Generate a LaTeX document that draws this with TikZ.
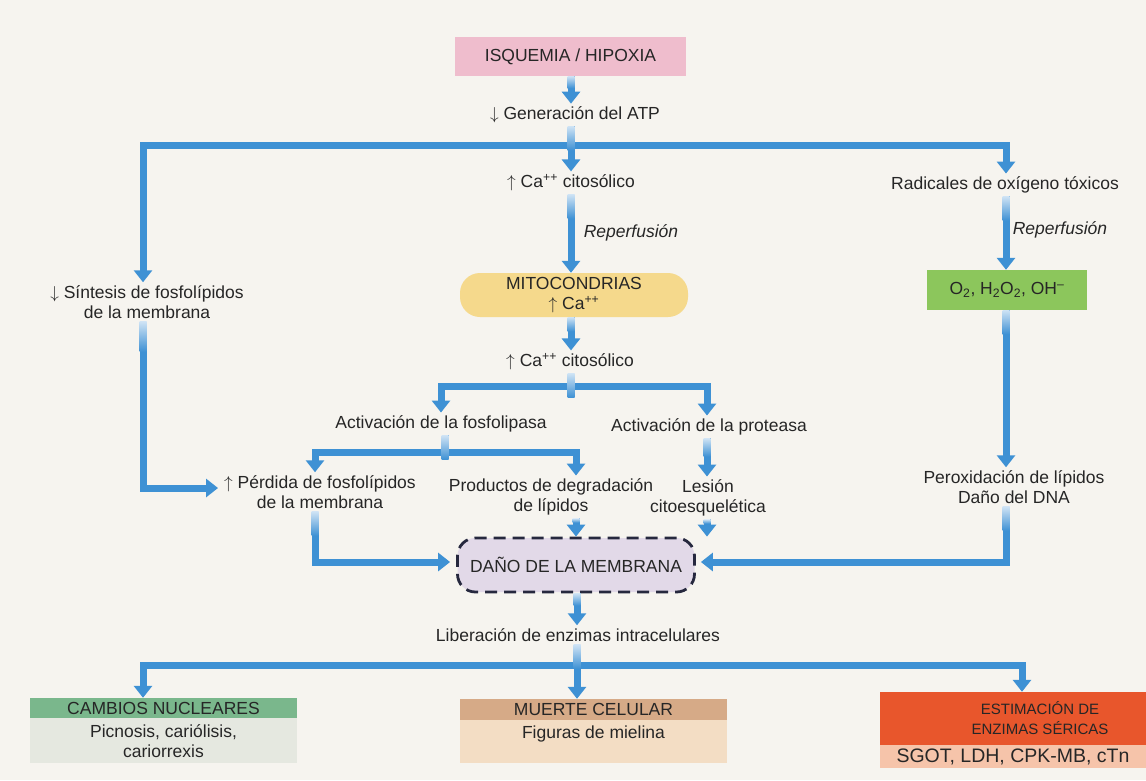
\documentclass[tikz,border=0pt]{standalone}
\usepackage{fontspec}
\setmainfont{Liberation Sans}
\usetikzlibrary{arrows.meta,calc}
\definecolor{paper}{RGB}{246,244,239}
\definecolor{flow}{RGB}{62,145,212}
\definecolor{flowL}{RGB}{205,226,244}
\definecolor{pinkc}{RGB}{239,189,205}
\definecolor{yellowc}{RGB}{245,217,140}
\definecolor{greenc}{RGB}{140,198,92}
\definecolor{danoc}{RGB}{226,217,232}
\definecolor{danoline}{RGB}{38,40,62}
\definecolor{camH}{RGB}{122,183,140}
\definecolor{camB}{RGB}{229,232,224}
\definecolor{mueH}{RGB}{214,170,135}
\definecolor{mueB}{RGB}{243,221,196}
\definecolor{estH}{RGB}{232,86,44}
\definecolor{estB}{RGB}{246,196,170}
\newcommand{\fs}{\fontsize{17.5}{20}\selectfont}
\newcommand{\up}{\ensuremath{\uparrow}}
\newcommand{\dn}{\ensuremath{\downarrow}}
\newcommand{\fadeat}[2][24]{\shade[top color=flowL,bottom color=flow] ($(#2)+(-3.5,0)$) rectangle ($(#2)+(3.5,#1)$);}
\begin{document}
\begin{tikzpicture}[x=1pt,y=-1pt,
  conn/.style={draw=flow,line width=7pt,-{Triangle[width=18pt,length=12pt]}},
  stem/.style={draw=flow,line width=7pt},
  txt/.style={align=center,inner sep=3pt,font=\fs,text=black!85},
  itl/.style={txt,font=\fs\itshape},
  boxc/.style={align=center,inner sep=0pt,font=\fs,text=black!85},
  dano/.style={boxc,draw=danoline,fill=danoc,line width=2.8pt,dash pattern=on 12pt off 7pt,rounded corners=18pt,minimum width=237pt,minimum height=54pt}]
\useasboundingbox (0,0) rectangle (1146,780);
\fill[paper] (0,0) rectangle (1146,780);

% columns
\coordinate (cL) at (143,0);
\coordinate (cR) at (1006,0);
\coordinate (cP) at (315,0);
\coordinate (cQ) at (576,0);
\coordinate (cS) at (707,0);
\coordinate (cM) at (571,0);
\coordinate (cE) at (1022,0);

% nodes
\node[boxc,fill=pinkc,minimum width=231pt,minimum height=39pt] (isq) at (570.5,56.5) {ISQUEMIA / HIPOXIA};
\node[txt] (gen) at (575,115) {\dn\ Generación del ATP};
\coordinate (J1) at (571,145);
\node[txt] (ca1) at (571,183) {\up\ Ca\textsuperscript{++} citosólico};
\node[itl] (rep1) at (631,233) {Reperfusión};
\node[boxc,fill=yellowc,rounded corners=20pt,minimum width=228pt,minimum height=44pt] (mito) at (574,295) {MITOCONDRIAS\\\up\ Ca\textsuperscript{++}};
\node[txt] (ca2) at (570,362) {\up\ Ca\textsuperscript{++} citosólico};
\coordinate (J2) at (571,386);
\node[txt] (fos) at (441,424) {Activación de la fosfolipasa};
\node[txt] (prot) at (709,427) {Activación de la proteasa};
\coordinate (J3) at (445,452);
\node[txt] (perd) at (320,492) {\up\ Pérdida de fosfolípidos\\de la membrana};
\node[txt] (prod) at (551,497) {Productos de degradación\\de lípidos};
\node[txt] (les) at (708,498) {Lesión\\citoesquelética};
\node[txt] (sint) at (147,302) {\dn\ Síntesis de fosfolípidos\\de la membrana};
\node[txt] (rad) at (1005,185) {Radicales de oxígeno tóxicos};
\node[itl] (rep2) at (1060,230) {Reperfusión};
\node[boxc,fill=greenc,minimum width=160pt,minimum height=40pt] (oxy) at (1007,290) {O\textsubscript{2}, H\textsubscript{2}O\textsubscript{2}, OH\textsuperscript{–}};
\node[txt] (pero) at (1014,487) {Peroxidación de lípidos\\Daño del DNA};
\node[dano] (dn) at (576,565) {DAÑO DE LA MEMBRANA};
\node[txt] (lib) at (578,635) {Liberación de enzimas intracelulares};
\coordinate (J4) at (577,665);

\node[boxc,fill=camH,minimum width=267pt,minimum height=20pt] (camh) at (163.5,708) {CAMBIOS NUCLEARES};
\node[boxc,fill=camB,minimum width=267pt,minimum height=45pt,anchor=north] (camb) at (camh.south) {Picnosis, cariólisis,\\cariorrexis};
\node[boxc,fill=mueH,minimum width=267pt,minimum height=21pt] (mueh) at (593.5,709.5) {MUERTE CELULAR};
\node[boxc,fill=mueB,minimum width=267pt,minimum height=43pt,anchor=north] (mueb) at (mueh.south) {Figuras de mielina\\\mbox{}};
\node[boxc,fill=estH,minimum width=320pt,minimum height=53pt,font=\fontsize{15}{20}\selectfont] (esth) at (1040,718.5) {ESTIMACIÓN DE\\ENZIMAS SÉRICAS};
\node[boxc,fill=estB,minimum width=266pt,minimum height=23pt,anchor=north west,font=\fontsize{19.5}{22}\selectfont] (estb) at (esth.south west) {SGOT, LDH, CPK-MB, cTn};

% connectors
\draw[conn] (isq.south -| cM) -- (gen.north -| cM);
\draw[stem] (gen.south -| cM) -- (J1);
\draw[conn] (J1) -| (sint.north -| cL);
\draw[conn] (J1) -| (rad.north -| cR);
\draw[conn] (J1) -- (ca1.north -| cM);
\draw[conn] (ca1.south -| cM) -- (mito.north -| cM);
\draw[conn] (mito.south -| cM) -- (ca2.north -| cM);
\draw[stem] (ca2.south -| cM) -- (J2);
\draw[conn] (J2) -| (fos.north);
\draw[conn] (J2) -| (prot.north -| cS);
\draw[stem] (fos.south -| J3) -- (J3);
\draw[conn] (J3) -| (perd.north -| cP);
\draw[conn] (J3) -| (prod.north -| cQ);
\draw[conn] (prot.south -| cS) -- (les.north -| cS);
\draw[conn] (sint.south -| cL) |- ([xshift=-3pt,yshift=4pt]perd.west);
\draw[conn] (perd.south -| cP) |- ([xshift=-6pt,yshift=3pt]dn.west);
\draw[conn] (prod.south -| cQ) -- (dn.north -| cQ);
\draw[conn] (les.south -| cS) -- (dn.north -| cS);
\draw[conn] (rad.south -| cR) -- (oxy.north -| cR);
\draw[conn] (oxy.south -| cR) -- (pero.north -| cR);
\draw[conn] (pero.south -| cR) |- ([xshift=5pt,yshift=3pt]dn.east);
\draw[conn] (dn.south -| J4) -- (lib.north -| J4);
\draw[stem] (lib.south -| J4) -- (J4);
\draw[conn] (J4) -| (camh.north -| cL);
\draw[conn] (J4) -| (esth.north -| cE);
\draw[conn] (J4) -- (mueh.north -| J4);

% faded starts of the shafts
\fadeat[12]{isq.south -| cM}
\fadeat{gen.south -| cM}
\fadeat{ca1.south -| cM}
\fadeat[14]{mito.south -| cM}
\fadeat{ca2.south -| cM}
\fadeat{fos.south -| J3}
\fadeat[18]{prot.south -| cS}
\fadeat[30]{sint.south -| cL}
\fadeat{perd.south -| cP}
\fadeat[4]{prod.south -| cQ}
\fadeat[4]{les.south -| cS}
\fadeat{rad.south -| cR}
\fadeat{oxy.south -| cR}
\fadeat{pero.south -| cR}
\fadeat[12]{dn.south -| J4}
\fadeat{lib.south -| J4}
\end{tikzpicture}
\end{document}
